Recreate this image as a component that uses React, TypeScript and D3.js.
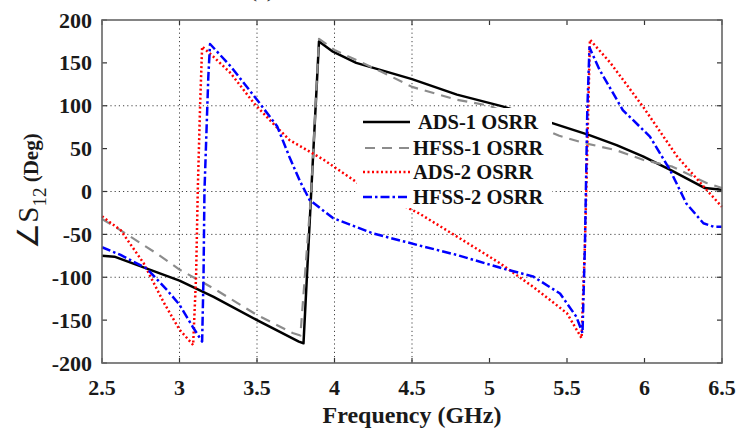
import React from "react";
import * as d3 from "d3";

const W = 736, H = 430;
const M = { left: 102, top: 20, right: 722, bottom: 363 };

const xTicks = [2.5, 3, 3.5, 4, 4.5, 5, 5.5, 6, 6.5];
const yTicks = [200, 150, 100, 50, 0, -50, -100, -150, -200];
const xGrid = [3, 3.5, 4, 4.5];
const yGrid = [100, 0, -50, -100];

const ads1F = [2.5, 2.58, 2.79, 3.0, 3.22, 3.5, 3.77, 3.8, 3.85, 3.9, 3.99, 4.14, 4.5, 4.79, 5.09, 5.4, 5.64, 5.82, 5.99, 6.17, 6.39, 6.5];
const ads1V = [-75, -76, -90, -104, -123, -150, -175, -177, 0, 175, 163, 150, 131, 113, 99, 80, 66, 54, 41, 25, 4, 2];

const hfss1F = [2.5, 2.6, 2.85, 3.0, 3.22, 3.5, 3.73, 3.78, 3.85, 3.9, 4.0, 4.3, 4.5, 4.79, 5.0, 5.45, 5.6, 5.82, 5.99, 6.18, 6.4, 6.5];
const hfss1V = [-32, -43, -72, -91, -113, -144, -165, -168, 0, 178, 165, 140, 122, 107, 100, 65, 57, 48, 37, 29, 10, 4];

const ads2F = [2.5, 2.62, 2.77, 2.9, 3.0, 3.088, 3.107, 3.118, 3.133, 3.146, 3.22, 3.33, 3.48, 3.6, 3.71, 3.93, 4.15, 4.55, 4.83, 5.07, 5.28, 5.5, 5.594, 5.616, 5.637, 5.648, 5.78, 5.99, 6.21, 6.4, 6.5];
const ads2V = [-29, -45, -84, -130, -161, -179, -99, 2, 101, 169, 157, 138, 103, 80, 60, 37, 10, -26, -57, -84, -111, -142, -171, -60, 95, 177, 150, 99, 41, 2, -18];

const hfss2F = [2.5, 2.62, 2.79, 2.92, 3.0, 3.086, 3.146, 3.155, 3.161, 3.186, 3.197, 3.33, 3.5, 3.63, 3.71, 3.78, 3.84, 3.99, 4.25, 4.57, 4.79, 5.09, 5.28, 5.455, 5.56, 5.6, 5.616, 5.631, 5.645, 5.71, 5.86, 6.035, 6.165, 6.27, 6.38, 6.445, 6.5];
const hfss2V = [-65, -74, -90, -115, -132, -158, -175, -99, 0, 134, 172, 146, 107, 76, 40, 11, -10, -31, -49, -64, -74, -90, -99, -119, -146, -165, -60, 95, 168, 142, 95, 64, 25, -14, -37, -41, -41];

const seriesNames = ["ADS-1 OSRR", "HFSS-1 OSRR", "ADS-2 OSRR", "HFSS-2 OSRR"];

const styles = [
  { color: "#000000", width: 2.5, dash: "" },
  { color: "#8c8c8c", width: 2.2, dash: "10,7" },
  { color: "#ff0000", width: 2.5, dash: "2,2.5" },
  { color: "#0000ff", width: 2.5, dash: "9,3,2.5,3" },
];

const FONT = "Liberation Serif, Times New Roman, Times, serif";

export default function App() {
  const x = d3.scaleLinear().domain([2.5, 6.5]).range([M.left, M.right]);
  const y = d3.scaleLinear().domain([-200, 200]).range([M.bottom, M.top]);
  const line = d3
    .line<[number, number]>()
    .x((d) => x(d[0]))
    .y((d) => y(d[1]));

  const series = [
    d3.zip(ads1F, ads1V) as [number, number][],
    d3.zip(hfss1F, hfss1V) as [number, number][],
    d3.zip(ads2F, ads2V) as [number, number][],
    d3.zip(hfss2F, hfss2V) as [number, number][],
  ];

  const tl = 5;
  const ts = { fontFamily: FONT };

  return (
    <svg
      width={W}
      height={H}
      style={{ position: "absolute", left: 0, top: 0, background: "#fff", fontFamily: FONT }}
    >
      <rect x={0} y={0} width={W} height={H} fill="#fff" />
      <text x={262} y={-3} fontSize={22} textAnchor="middle" fill="#222" style={ts}>(a)</text>
      {xGrid.map((t) => (
        <line key={"xg" + t} x1={x(t)} x2={x(t)} y1={M.top} y2={M.bottom} stroke="#444" strokeWidth={1} strokeDasharray="1.2,3" />
      ))}
      {yGrid.map((t) => (
        <line key={"yg" + t} x1={M.left} x2={M.right} y1={y(t)} y2={y(t)} stroke="#444" strokeWidth={1} strokeDasharray="1.2,3" />
      ))}
      {xTicks.map((t) => (
        <g key={"xt" + t}>
          <line x1={x(t)} x2={x(t)} y1={M.bottom} y2={M.bottom - tl} stroke="#333" strokeWidth={1.2} />
          <line x1={x(t)} x2={x(t)} y1={M.top} y2={M.top + tl} stroke="#333" strokeWidth={1.2} />
          <text x={x(t)} y={395} fontSize={22} fontWeight="bold" textAnchor="middle" fill="#1a1a1a" style={ts}>{t}</text>
        </g>
      ))}
      {yTicks.map((t) => (
        <g key={"yt" + t}>
          <line x1={M.left} x2={M.left + tl} y1={y(t)} y2={y(t)} stroke="#333" strokeWidth={1.2} />
          <line x1={M.right} x2={M.right - tl} y1={y(t)} y2={y(t)} stroke="#333" strokeWidth={1.2} />
          <text x={92} y={y(t) + 7.5} fontSize={22} fontWeight="bold" textAnchor="end" fill="#1a1a1a" style={ts}>{t}</text>
        </g>
      ))}
      {series.map((s, i) => (
        <path
          key={"s" + i}
          d={line(s) || ""}
          fill="none"
          stroke={styles[i].color}
          strokeWidth={styles[i].width}
          strokeDasharray={styles[i].dash || undefined}
          strokeLinejoin="round"
        />
      ))}
      <rect x={M.left} y={M.top} width={M.right - M.left} height={M.bottom - M.top} fill="none" stroke="#666" strokeWidth={1.6} />
      <rect x={357} y={108} width={195} height={100} fill="#fff" />
      {seriesNames.map((n, i) => {
        const ly = [122, 148, 172, 197][i];
        return (
          <g key={"lg" + i}>
            <line x1={i === 1 ? 365 : 363} x2={410} y1={ly} y2={ly} stroke={styles[i].color} strokeWidth={styles[i].width} strokeDasharray={styles[i].dash || undefined} />
            <text x={i === 0 ? 418 : 413} y={ly + 7} fontSize={20.5} fontWeight="bold" fill="#111" style={ts}>{n}</text>
          </g>
        );
      })}
      <text x={412} y={423} fontSize={24} fontWeight="bold" textAnchor="middle" fill="#1a1a1a" style={ts}>Frequency (GHz)</text>
      <text transform="translate(38,191) rotate(-90)" textAnchor="middle" fill="#1a1a1a" style={ts}>
        <tspan fontSize={29}>∠S</tspan>
        <tspan fontSize={19} dy={8}>12</tspan>
        <tspan fontSize={21} fontWeight="bold" dy={-8}> (Deg)</tspan>
      </text>
    </svg>
  );
}
